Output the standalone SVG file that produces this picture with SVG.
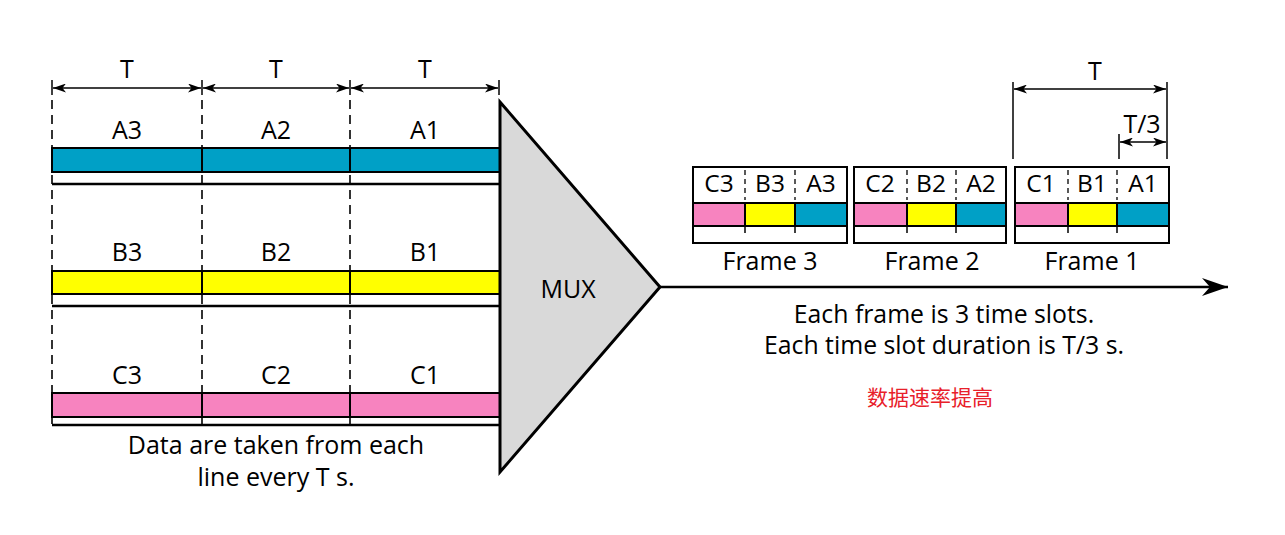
<svg xmlns="http://www.w3.org/2000/svg" width="1285" height="535" viewBox="0 0 1285 535">
<defs>
<style>
text{font-family:"Open Sans","Noto Sans",sans-serif;fill:#000;text-anchor:middle}
.lbl{font-size:25px}
.sm{font-size:24.5px}
.dim{stroke:#000;stroke-width:1.3;fill:none}
.tick{stroke:#000;stroke-width:1.5}
.dash{stroke:#000;stroke-width:1.6;stroke-dasharray:9 6;fill:none}
.fdash{stroke:#000;stroke-width:1.3;stroke-dasharray:5 4;fill:none}
.bar{stroke:#000;stroke-width:2}
.line{stroke:#000;stroke-width:2.6}
.box{fill:#fff;stroke:#000;stroke-width:2}
.a{fill:#00a0c6}.b{fill:#ffff00}.c{fill:#f783bf}
</style>
<marker id="ah" viewBox="0 0 13 9" refX="13" refY="4.5" markerWidth="13" markerHeight="9" markerUnits="userSpaceOnUse" orient="auto-start-reverse">
<path d="M0,0 L13,4.5 L0,9 L3.5,4.5 Z" fill="#000"/>
</marker>
<marker id="big" viewBox="0 0 26 18" refX="26" refY="9" markerWidth="26" markerHeight="18" markerUnits="userSpaceOnUse" orient="auto">
<path d="M0,0 L26,9 L0,18 L8,9 Z" fill="#000"/>
</marker>
</defs>

<g id="connectors">
<line x1="658" y1="287" x2="1228" y2="287" stroke="#000" stroke-width="2.6" marker-end="url(#big)"/>
</g>

<g id="input-timing">
<line class="tick" x1="52" y1="80" x2="52" y2="95"/>
<line class="tick" x1="202" y1="80" x2="202" y2="95"/>
<line class="tick" x1="350" y1="80" x2="350" y2="95"/>
<line class="tick" x1="499" y1="80" x2="499" y2="95"/>
<line class="dim" x1="53" y1="88" x2="201" y2="88" marker-start="url(#ah)" marker-end="url(#ah)"/>
<line class="dim" x1="203" y1="88" x2="349" y2="88" marker-start="url(#ah)" marker-end="url(#ah)"/>
<line class="dim" x1="351" y1="88" x2="498" y2="88" marker-start="url(#ah)" marker-end="url(#ah)"/>
<text class="lbl" x="127" y="78">T</text>
<text class="lbl" x="276" y="78">T</text>
<text class="lbl" x="425" y="78">T</text>
<line class="dash" x1="52" y1="100" x2="52" y2="430"/>
<line class="dash" x1="202" y1="100" x2="202" y2="430"/>
<line class="dash" x1="350" y1="100" x2="350" y2="430"/>
</g>

<g id="line-A">
<rect class="bar a" x="52" y="148" width="448" height="24"/>
<line class="bar" x1="202" y1="148" x2="202" y2="172"/>
<line class="bar" x1="350" y1="148" x2="350" y2="172"/>
<line class="line" x1="52" y1="184" x2="500" y2="184"/>
<text class="lbl" x="127" y="139">A3</text>
<text class="lbl" x="276" y="139">A2</text>
<text class="lbl" x="425" y="139">A1</text>
</g>

<g id="line-B">
<rect class="bar b" x="52" y="271" width="448" height="23"/>
<line class="bar" x1="202" y1="271" x2="202" y2="294"/>
<line class="bar" x1="350" y1="271" x2="350" y2="294"/>
<line class="line" x1="52" y1="306" x2="500" y2="306"/>
<text class="lbl" x="127" y="261">B3</text>
<text class="lbl" x="276" y="261">B2</text>
<text class="lbl" x="425" y="261">B1</text>
</g>

<g id="line-C">
<rect class="bar c" x="52" y="393" width="448" height="24"/>
<line class="bar" x1="202" y1="393" x2="202" y2="417"/>
<line class="bar" x1="350" y1="393" x2="350" y2="417"/>
<line class="line" x1="52" y1="425" x2="500" y2="425"/>
<text class="lbl" x="127" y="384">C3</text>
<text class="lbl" x="276" y="384">C2</text>
<text class="lbl" x="425" y="384">C1</text>
</g>

<g id="input-caption">
<text class="lbl" x="276" y="454">Data are taken from each</text>
<text class="lbl" x="276" y="486">line every T s.</text>
</g>

<g id="mux">
<polygon points="500,102 660,287 500,472" fill="#d9d9d9" stroke="#000" stroke-width="3" stroke-linejoin="miter"/>
<text x="568" y="298" style="font-size:25px">MUX</text>
</g>

<g id="frame-3">
<rect class="box" x="693" y="167" width="154" height="76"/>
<rect class="bar c" x="693" y="203" width="52" height="23"/>
<rect class="bar b" x="745" y="203" width="50" height="23"/>
<rect class="bar a" x="795" y="203" width="52" height="23"/>
<line class="fdash" x1="745" y1="170" x2="745" y2="200"/>
<line class="fdash" x1="795" y1="170" x2="795" y2="200"/>
<line class="tick" x1="745" y1="226" x2="745" y2="233"/>
<line class="tick" x1="795" y1="226" x2="795" y2="233"/>
<text class="sm" x="719" y="192">C3</text>
<text class="sm" x="770" y="192">B3</text>
<text class="sm" x="821" y="192">A3</text>
<text class="lbl" x="770" y="270">Frame 3</text>
</g>

<g id="frame-2">
<rect class="box" x="854" y="167" width="152" height="76"/>
<rect class="bar c" x="854" y="203" width="53" height="23"/>
<rect class="bar b" x="907" y="203" width="49" height="23"/>
<rect class="bar a" x="956" y="203" width="50" height="23"/>
<line class="fdash" x1="907" y1="170" x2="907" y2="200"/>
<line class="fdash" x1="956" y1="170" x2="956" y2="200"/>
<line class="tick" x1="907" y1="226" x2="907" y2="233"/>
<line class="tick" x1="956" y1="226" x2="956" y2="233"/>
<text class="sm" x="880" y="192">C2</text>
<text class="sm" x="931" y="192">B2</text>
<text class="sm" x="981" y="192">A2</text>
<text class="lbl" x="932" y="270">Frame 2</text>
</g>

<g id="frame-1">
<rect class="box" x="1015" y="167" width="154" height="76"/>
<rect class="bar c" x="1015" y="203" width="53" height="23"/>
<rect class="bar b" x="1068" y="203" width="49" height="23"/>
<rect class="bar a" x="1117" y="203" width="52" height="23"/>
<line class="fdash" x1="1068" y1="170" x2="1068" y2="200"/>
<line class="fdash" x1="1117" y1="170" x2="1117" y2="200"/>
<line class="tick" x1="1068" y1="226" x2="1068" y2="233"/>
<line class="tick" x1="1117" y1="226" x2="1117" y2="233"/>
<text class="sm" x="1041" y="192">C1</text>
<text class="sm" x="1092" y="192">B1</text>
<text class="sm" x="1143" y="192">A1</text>
<text class="lbl" x="1092" y="270">Frame 1</text>
</g>

<g id="frame-timing">
<line class="tick" x1="1013" y1="82" x2="1013" y2="159"/>
<line class="tick" x1="1167" y1="82" x2="1167" y2="159"/>
<line class="tick" x1="1119" y1="134" x2="1119" y2="159"/>
<line class="dim" x1="1014" y1="89" x2="1166" y2="89" marker-start="url(#ah)" marker-end="url(#ah)"/>
<line class="dim" x1="1120" y1="142" x2="1166" y2="142" marker-start="url(#ah)" marker-end="url(#ah)"/>
<text class="lbl" x="1095" y="80">T</text>
<text class="lbl" x="1142" y="133">T/3</text>
</g>

<g id="output-caption">
<text x="944" y="323" style="font-size:24.8px">Each frame is 3 time slots.</text>
<text x="944" y="354" style="font-size:24.8px">Each time slot duration is T/3 s.</text>
<text x="930" y="405" style="font-family:'Noto Sans CJK SC',sans-serif;font-size:21px;fill:#e8202a">数据速率提高</text>
</g>
</svg>
